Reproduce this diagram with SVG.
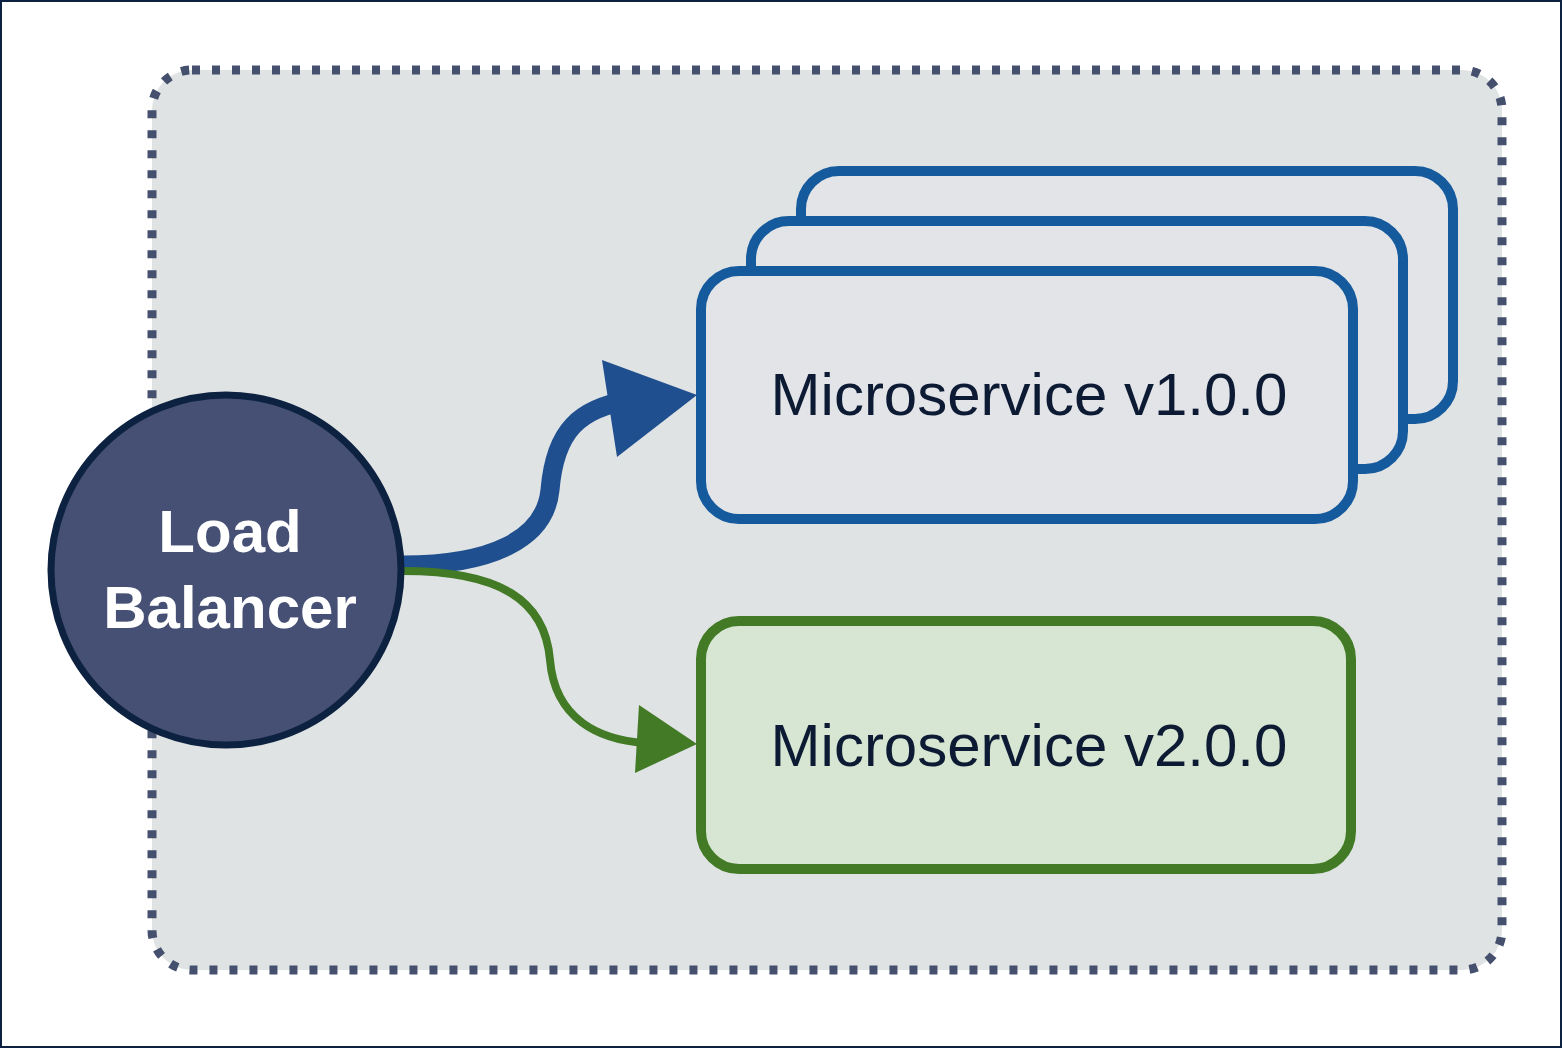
<svg xmlns="http://www.w3.org/2000/svg" width="1562" height="1048" viewBox="0 0 1562 1048">
<style>
.frame{fill:#ffffff;stroke:#0d2240;stroke-width:2}
.container{fill:#dfe3e3;stroke:#44506e;stroke-width:9;stroke-dasharray:8 12}
.v1{fill:#e2e4e8;stroke:#165a9e;stroke-width:10}
.v2{fill:#d6e6d2;stroke:#427a26;stroke-width:10}
.lb{fill:#465074;stroke:#0d2240;stroke-width:7}
.lbt{font-family:"Liberation Sans",Arial,sans-serif;font-weight:bold;font-size:60px;fill:#ffffff;text-anchor:middle}
.mst{font-family:"Liberation Sans",Arial,sans-serif;font-size:60px;fill:#0d1a33;text-anchor:middle}
</style>
<rect class="frame" x="1" y="1" width="1560" height="1046"/>
<g id="container">
<rect class="container" x="152" y="70" width="1350" height="900" rx="40" ry="40"/>
</g>
<g id="microservice-v1">
<rect class="v1" x="801" y="171" width="652" height="248" rx="38" ry="38"/>
<rect class="v1" x="751" y="221" width="652" height="248" rx="38" ry="38"/>
<rect class="v1" x="701" y="271" width="652" height="248" rx="38" ry="38"/>
<text class="mst" x="1029" y="415">Microservice v1.0.0</text>
</g>
<g id="microservice-v2">
<rect class="v2" x="701" y="621" width="650" height="248" rx="38" ry="38"/>
<text class="mst" x="1029" y="766">Microservice v2.0.0</text>
</g>
<g id="connectors">
<path d="M403 565 C490 565 545 540 550 490 C555 430 580 408 630 400" fill="none" stroke="#1f4f8f" stroke-width="19"/>
<polygon points="697,395 602,360 617,457" fill="#1f4f8f"/>
<path d="M403 571 C500 571 545 600 550 660 C555 720 600 740 645 743" fill="none" stroke="#427a26" stroke-width="8"/>
<polygon points="697,744 639,705 635,773" fill="#427a26"/>
</g>
<g id="load-balancer">
<circle class="lb" cx="226" cy="570" r="175"/>
<text class="lbt" x="230" y="552">Load</text>
<text class="lbt" x="230" y="628">Balancer</text>
</g>
</svg>
